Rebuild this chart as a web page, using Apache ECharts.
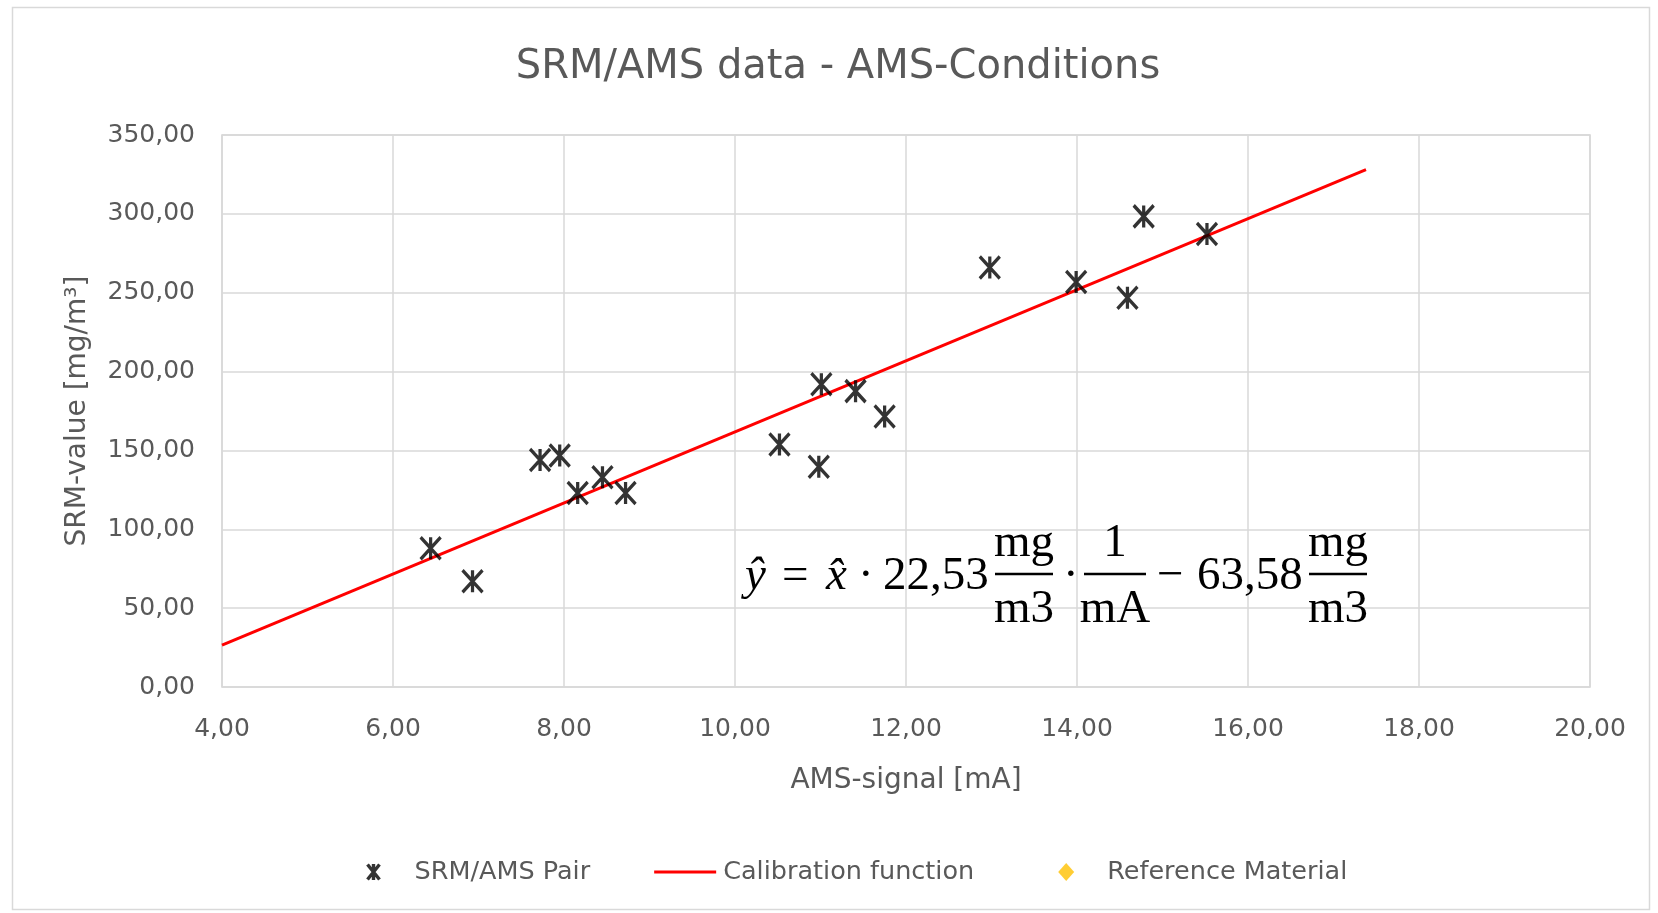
<!DOCTYPE html>
<html>
<head>
<meta charset="utf-8">
<script src="https://cdn.jsdelivr.net/npm/echarts@6/dist/echarts.min.js"></script>
<style>
html,body{margin:0;padding:0;background:#fff;}
#chart{width:1658px;height:913px;}
</style>
</head>
<body>
<div id="chart"></div>
<script>
// ---- data ----
const amsSignal = [6.44, 6.93, 7.72, 7.95, 8.16, 8.45, 8.72, 10.52, 10.98, 11.01, 11.41, 11.75, 12.98, 13.99, 14.59, 14.78, 15.52];
const srmValue  = [88.0, 67.0, 144.0, 146.8, 123.0, 133.0, 123.0, 153.7, 139.6, 191.9, 187.6, 171.5, 266.0, 256.8, 246.8, 298.4, 287.3];
const calibX = [4.00, 17.38];
const calibY = [26.5, 328.0];
const refX = [];
const refY = [];
const xTicks = [4, 6, 8, 10, 12, 14, 16, 18, 20];
const yTicks = [0, 50, 100, 150, 200, 250, 300, 350];
const seriesNames = ['SRM/AMS Pair', 'Calibration function', 'Reference Material'];
const titleText = 'SRM/AMS data - AMS-Conditions';
const xName = 'AMS-signal [mA]';
const yName = 'SRM-value [mg/m³]';

const fmt = v => v.toFixed(2).replace('.', ',');
const starPath = 'path://M0,0L20,22M20,0L0,22M10,0L10,22';
// legend icons drawn inside a 64x18 box (first two moveTo points set the box)
const starLegend = 'path://M0,0M64,18M22,1.5L34,16.5M34,1.5L22,16.5M28,1L28,17';
const lineLegend = 'path://M0,0M64,18M0,7.5L62,7.5L62,10.5L0,10.5Z';
const diamondLegend = 'path://M0,0M64,18M28,0L36,9L28,18L20,9Z';
const diamondPath = 'path://M7,0L14,9L7,18L0,9Z';
const gray = '#595959';
const sans = 'DejaVu Sans';
const serif = 'Liberation Serif';

const chart = echarts.init(document.getElementById('chart'), null, {renderer: 'canvas'});

function eqText(text, x, y, opts) {
  opts = opts || {};
  return {
    type: 'text', z: 100, silent: true,
    style: {
      text: text, x: x, y: y,
      font: (opts.italic ? 'italic ' : '') + (opts.size || 47) + 'px "' + serif + '"',
      fill: '#000',
      align: opts.align || 'left',
      verticalAlign: 'middle'
    }
  };
}
function bar(x1, x2, y) {
  return { type: 'line', z: 100, silent: true,
    shape: {x1: x1, y1: y, x2: x2, y2: y},
    style: {stroke: '#000', lineWidth: 2.5} };
}

const mainY = 577, numY = 544, denY = 610, barY = 574;

const option = {
  backgroundColor: '#fff',
  animation: false,
  title: {
    text: titleText,
    left: 833, top: 43, textAlign: 'center',
    textStyle: {fontFamily: sans, fontSize: 40, fontWeight: 'normal', color: gray}
  },
  grid: {
    left: 222, right: 68, top: 135, bottom: 226,
    show: true, borderColor: '#d3d3d3', borderWidth: 1.5, backgroundColor: 'transparent'
  },
  legend: {
    left: 338, top: 854,
    itemWidth: 64, itemHeight: 18, itemGap: 64,
    textStyle: {fontFamily: sans, fontSize: 25.5, color: gray},
    data: [
      {name: seriesNames[0], icon: starLegend, itemStyle: {color: 'none', borderColor: '#000', borderWidth: 3.4}},
      {name: seriesNames[1], icon: lineLegend, itemStyle: {color: '#ff0000', borderWidth: 0}},
      {name: seriesNames[2], icon: diamondLegend, itemStyle: {color: '#FFC000', borderWidth: 0}}
    ]
  },
  xAxis: {
    type: 'value', min: xTicks[0], max: xTicks[xTicks.length - 1], interval: 2,
    name: xName, nameLocation: 'middle', nameGap: 80,
    nameTextStyle: {fontFamily: sans, fontSize: 28, color: gray},
    axisLine: {show: false}, axisTick: {show: false},
    axisLabel: {formatter: fmt, fontFamily: sans, fontSize: 25, color: gray, margin: 30},
    splitLine: {show: true, lineStyle: {color: '#d9d9d9', width: 1.5}}
  },
  yAxis: {
    type: 'value', min: yTicks[0], max: yTicks[yTicks.length - 1], interval: 50,
    name: yName, nameLocation: 'middle', nameGap: 130,
    nameTextStyle: {fontFamily: sans, fontSize: 28, color: gray},
    axisLine: {show: false}, axisTick: {show: false},
    axisLabel: {formatter: fmt, fontFamily: sans, fontSize: 25, color: gray, margin: 27},
    splitLine: {show: true, lineStyle: {color: '#d9d9d9', width: 1.5}}
  },
  series: [
    {
      name: seriesNames[0], type: 'scatter',
      symbol: starPath, symbolSize: [20, 22],
      itemStyle: {color: 'none', borderColor: '#000', borderWidth: 3.4},
      data: amsSignal.map((x, i) => [x, srmValue[i]]),
      z: 5
    },
    {
      name: seriesNames[1], type: 'line', showSymbol: false, symbol: 'none',
      lineStyle: {color: '#ff0000', width: 3},
      itemStyle: {color: '#ff0000'},
      data: calibX.map((x, i) => [x, calibY[i]]),
      z: 4
    },
    {
      name: seriesNames[2], type: 'scatter', symbol: diamondPath, symbolSize: [14, 18],
      itemStyle: {color: '#FFC000'},
      data: refX.map((x, i) => [x, refY[i]])
    }
  ],
  graphic: [
    { type: 'rect', z: -10, silent: true,
      shape: {x: 12.5, y: 7.5, width: 1637, height: 902},
      style: {fill: 'none', stroke: '#d9d9d9', lineWidth: 1.5} },
    eqText('ŷ', 745, mainY, {italic: true}),
    eqText('=', 782, mainY),
    eqText('x̂', 826, mainY, {italic: true}),
    eqText('·', 858, mainY),
    eqText('22,53', 883, mainY),
    eqText('mg', 1024, numY, {align: 'center'}),
    bar(995, 1053, barY),
    eqText('m3', 1024, denY, {align: 'center'}),
    eqText('·', 1063, mainY),
    eqText('1', 1115, numY, {align: 'center'}),
    bar(1084, 1146, barY),
    eqText('mA', 1115, denY, {align: 'center'}),
    eqText('−', 1157, mainY),
    eqText('63,58', 1197, mainY),
    eqText('mg', 1338, numY, {align: 'center'}),
    bar(1309, 1367, barY),
    eqText('m3', 1338, denY, {align: 'center'})
  ]
};
chart.setOption(option);
</script>
</body>
</html>
